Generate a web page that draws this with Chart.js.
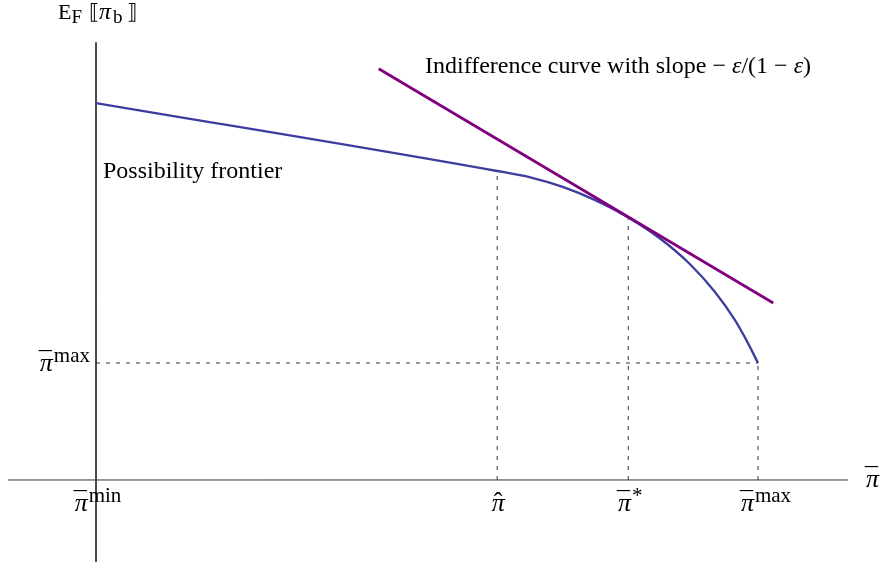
<!DOCTYPE html>
<html>
<head>
<meta charset="utf-8">
<script src="https://cdn.jsdelivr.net/npm/chart.js@4"></script>
<style>
  html, body { margin: 0; padding: 0; background: #ffffff; }
  canvas { display: block; }
</style>
</head>
<body>
<canvas id="c" width="884" height="567"></canvas>
<script>
// ---------- data ----------
// Possibility frontier: x = pi-bar (pi_min = 0, pi_max = 1), y = E_F[pi_b]
const frontierX = [0.000, 0.606, 0.656, 0.705, 0.755, 0.804, 0.852, 0.897, 0.935, 0.965, 0.985, 1.000];
const frontierY = [3.222, 2.641, 2.587, 2.505, 2.390, 2.244, 2.064, 1.846, 1.607, 1.368, 1.168, 1.000];
// Indifference line (tangent at pi*)
const indiffX = [0.427, 1.023];
const indiffY = [3.515, 1.513];
// Axis extents
const xAxisX = [-0.133, 1.136];
const yAxisY = [3.74, -0.70];
// Tick positions and labels
const xTickValues = [0, 0.606, 0.804, 1];
const xTickAccent = ['\u00AF', '\u02C6', '\u00AF', '\u00AF'];
const xTickSup = ['min', '', '*', 'max'];
const yTickValues = [1];
const yTickAccent = ['\u00AF'];
const yTickSup = ['max'];
// Dotted guides: x positions and the frontier height there
const guideX = [0.606, 0.804, 1];
const guideTopY = [2.641, 2.244, 1.000];
const annotFrontier = 'Possibility frontier';
const annotIndiff = ['Indifference curve with slope \u2212 ', 'ε', '/(1 \u2212 ', 'ε', ')'];

// ---------- layout (pixel nudges for tick labels) ----------
const xTickShift = [2, 1, 2, 8];

// ---------- build datasets ----------
const pts = (xs, ys) => xs.map((x, i) => ({x, y: ys[i]}));
const AXIS = '#333333';
const GUIDE = '#333333';
const datasets = [
  { data: pts(indiffX, indiffY), borderColor: '#800080', borderWidth: 2.7, tension: 0 },
  { data: pts(frontierX, frontierY), borderColor: '#3d3d9e', borderWidth: 2.3, cubicInterpolationMode: 'monotone' },
  { data: pts(xAxisX, [0, 0]), borderColor: AXIS, borderWidth: 1 },
  { data: pts([0, 0], yAxisY), borderColor: AXIS, borderWidth: 1 },
  { data: pts([0, 1], [1, 1]), borderColor: GUIDE, borderWidth: 1, borderDash: [4, 6] }
];
guideX.forEach((gx, i) => {
  datasets.push({ data: pts([gx, gx], [0, guideTopY[i]]), borderColor: GUIDE, borderWidth: 1, borderDash: [4, 6] });
});
datasets.forEach(d => { d.pointRadius = 0; d.fill = false; });

// ---------- rich text ----------
const FONT = '"Liberation Serif", "DejaVu Serif", serif';
function fontStr(p) { return (p.italic ? 'italic ' : '') + (p.size || 24) + 'px ' + FONT; }
function drawRich(ctx, parts, x, y, align) {
  let w = 0;
  parts.forEach(p => { ctx.font = fontStr(p); p._w = ctx.measureText(p.t).width; w += p._w + (p.gap || 0); });
  let cx = align === 'center' ? x - w / 2 : align === 'right' ? x - w : x;
  parts.forEach(p => {
    cx += (p.gap || 0);
    ctx.font = fontStr(p);
    ctx.fillText(p.t, cx, y + (p.dy || 0));
    if (p.accent) {
      ctx.font = (p.accentSize || p.size) + 'px ' + FONT;
      const aw = ctx.measureText(p.accent).width;
      ctx.fillText(p.accent, cx + p._w / 2 - aw / 2 + (p.ax || 0), y + (p.ady || 0));
    }
    cx += p._w;
  });
}
function piParts(accent, sup) {
  const parts = [{t: 'π', italic: true, size: 26, accent, ax: accent === '\u00AF' ? -1 : 0, ady: accent === '\u00AF' ? -2 : -1}];
  if (sup) parts.push({t: sup, size: 21, dy: -9, gap: 1});
  return parts;
}

const textPlugin = {
  id: 'texts',
  afterDatasetsDraw(chart) {
    const ctx = chart.ctx, xs = chart.scales.x, ys = chart.scales.y;
    ctx.save();
    ctx.fillStyle = '#000';
    ctx.textBaseline = 'alphabetic';
    const ox = xs.getPixelForValue(0), oy = ys.getPixelForValue(0);
    // x tick labels
    xTickValues.forEach((v, i) => {
      drawRich(ctx, piParts(xTickAccent[i], xTickSup[i]), xs.getPixelForValue(v) + xTickShift[i], oy + 31, 'center');
    });
    // y tick labels
    yTickValues.forEach((v, i) => {
      drawRich(ctx, piParts(yTickAccent[i], yTickSup[i]), ox - 6, ys.getPixelForValue(v) + 8, 'right');
    });
    // axis titles
    drawRich(ctx, [
      {t: 'E', size: 22}, {t: 'F', size: 19, dy: 4},
      {t: '\u27E6', size: 21, gap: 7}, {t: 'π', italic: true, size: 24},
      {t: 'b', size: 19, dy: 4, gap: 2}, {t: '\u27E7', size: 21, gap: 4}
    ], ox - 38, 19, 'left');
    drawRich(ctx, piParts('\u00AF', ''), xs.getPixelForValue(1.136) + 18, oy + 7, 'left');
    // annotations
    drawRich(ctx, [{t: annotFrontier, size: 24}], ox + 7, oy - 302, 'left');
    drawRich(ctx, annotIndiff.map(t => ({t, size: 24, italic: t === 'ε'})), ox + 329, oy - 407, 'left');
    ctx.restore();
  }
};

new Chart(document.getElementById('c'), {
  type: 'line',
  data: { datasets },
  options: {
    responsive: false,
    devicePixelRatio: 1,
    animation: false,
    layout: { padding: 0 },
    plugins: { legend: { display: false }, tooltip: { enabled: false } },
    scales: {
      x: { type: 'linear', display: false, min: -0.14502, max: 1.19033 },
      y: { type: 'linear', display: false, min: -0.7436, max: 4.1026 }
    }
  },
  plugins: [textPlugin]
});
</script>
</body>
</html>
